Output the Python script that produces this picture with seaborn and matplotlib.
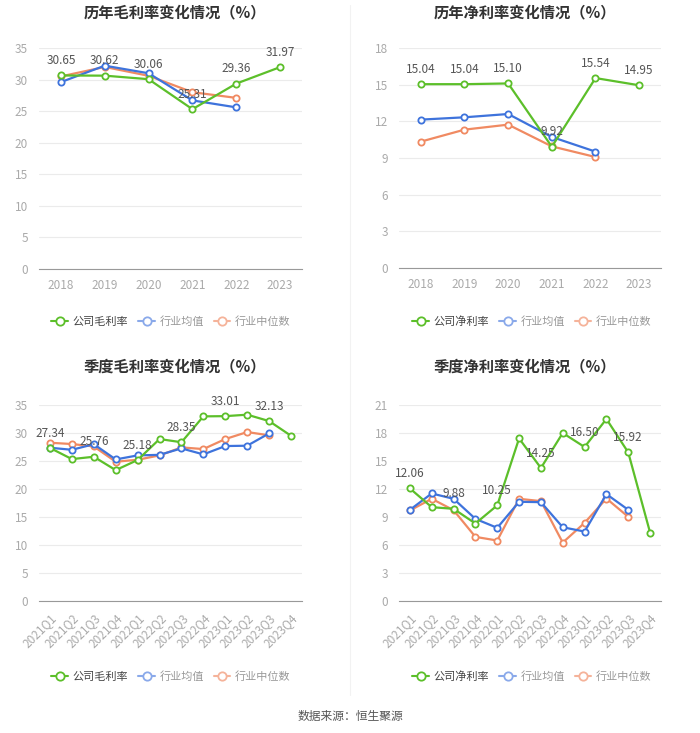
import matplotlib
matplotlib.use("Agg")
import matplotlib.pyplot as plt
from matplotlib.lines import Line2D
import seaborn as sns
import pandas as pd

# annual data
years = ["2018", "2019", "2020", "2021", "2022", "2023"]
gross_company = [30.65, 30.62, 30.06, 25.31, 29.36, 31.97]
gross_ind_avg = [29.6, 32.2, 31.0, 26.7, 25.6, None]
gross_ind_med = [30.5, 32.0, 30.6, 28.0, 27.1, None]

net_company = [15.04, 15.04, 15.10, 9.92, 15.54, 14.95]
net_ind_avg = [12.14, 12.33, 12.6, 10.72, 9.52, None]
net_ind_med = [10.34, 11.32, 11.73, 9.95, 9.08, None]

# quarterly data
quarters = ["2021Q1", "2021Q2", "2021Q3", "2021Q4", "2022Q1", "2022Q2",
            "2022Q3", "2022Q4", "2023Q1", "2023Q2", "2023Q3", "2023Q4"]
q_gross_company = [27.34, 25.34, 25.76, 23.37, 25.18, 28.92, 28.35, 32.97, 33.01, 33.27, 32.13, 29.5]
q_gross_ind_avg = [27.37, 27.0, 28.0, 25.28, 26.0, 26.1, 27.25, 26.18, 27.67, 27.73, 29.93, None]
q_gross_ind_med = [28.26, 28.03, 27.6, 24.87, 25.22, 26.0, 27.43, 27.13, 28.92, 30.17, 29.58, None]

q_net_company = [12.06, 10.05, 9.88, 8.3, 10.25, 17.42, 14.25, 18.0, 16.50, 19.5, 15.92, 7.33]
q_net_ind_avg = [9.77, 11.52, 10.95, 8.8, 7.84, 10.63, 10.59, 7.9, 7.44, 11.45, 9.77, None]
q_net_ind_med = [9.7, 10.95, 9.73, 6.87, 6.48, 10.95, 10.7, 6.26, 8.37, 10.98, 9.02, None]

GREEN = "#5cbf2a"
BLUE = "#3e73dc"
ORANGE = "#f08a62"

sns.set_style("white")
plt.rcParams["font.family"] = ["Noto Sans CJK SC", "DejaVu Sans"]

W, H = 700, 733
fig = plt.figure(figsize=(W / 100, H / 100), dpi=100)


def px_axes(x0, y0, x1, y1):
    return fig.add_axes([x0 / W, 1 - y1 / H, (x1 - x0) / W, (y1 - y0) / H])


def draw_panel(ax, cats, company, avg, med, ymax, ystep, label_every, rotate):
    df = pd.DataFrame({"pos": range(len(cats)), "company": company,
                       "avg": avg, "med": med})
    for col, color, z in [("med", ORANGE, 2), ("avg", BLUE, 3), ("company", GREEN, 4)]:
        sub = df[["pos", col]].dropna()
        sns.lineplot(data=sub, x="pos", y=col, ax=ax, color=color, lw=1.6,
                     marker="o", markersize=4.5, markerfacecolor="white",
                     markeredgecolor=color, markeredgewidth=1.3, zorder=z)
    for i in range(0, len(cats), label_every):
        ax.annotate(f"{company[i]:.2f}", (i, company[i]), xytext=(0, 6),
                    textcoords="offset points", ha="center", va="bottom",
                    fontsize=8.5, color="#555555", zorder=5)
    ax.set_xlim(-0.5, len(cats) - 0.5)
    ax.set_ylim(0, ymax)
    ax.set_yticks(range(0, ymax + 1, ystep))
    ax.set_xticks(range(len(cats)))
    if rotate:
        ax.set_xticklabels(cats, rotation=45, ha="right", rotation_mode="anchor")
    else:
        ax.set_xticklabels(cats)
    ax.set_xlabel("")
    ax.set_ylabel("")
    ax.grid(axis="y", color="#ebebeb", lw=0.8)
    ax.set_axisbelow(True)
    for s in ["left", "top", "right"]:
        ax.spines[s].set_visible(False)
    ax.spines["bottom"].set_color("#999999")
    ax.tick_params(axis="y", length=0, labelsize=8.5, colors="#aaaaaa", pad=8)
    ax.tick_params(axis="x", length=4, color="#999999", labelsize=8.5, labelcolor="#aaaaaa")


ax1 = px_axes(39, 48, 302, 269)
draw_panel(ax1, years, gross_company, gross_ind_avg, gross_ind_med, 35, 5, 1, False)
ax2 = px_axes(399, 48, 661, 268)
draw_panel(ax2, years, net_company, net_ind_avg, net_ind_med, 18, 3, 1, False)
ax3 = px_axes(39, 405, 302, 601)
draw_panel(ax3, quarters, q_gross_company, q_gross_ind_avg, q_gross_ind_med, 35, 5, 2, True)
ax4 = px_axes(399, 405, 661, 601)
draw_panel(ax4, quarters, q_net_company, q_net_ind_avg, q_net_ind_med, 21, 3, 2, True)

titles = [(175, 12, "历年毛利率变化情况（%）"), (525, 12, "历年净利率变化情况（%）"),
          (175, 366, "季度毛利率变化情况（%）"), (525, 366, "季度净利率变化情况（%）")]
for x, y, t in titles:
    fig.text(x / W, 1 - y / H, t, ha="center", va="center", fontsize=11,
             fontweight="bold", color="#333333")


def legend_at(cx, cy, first):
    handles = [Line2D([], [], color=c, lw=1.5, marker="o", markersize=6,
                      markerfacecolor="white", markeredgecolor=c, markeredgewidth=1.3)
               for c in [GREEN, "#8aa9ea", "#f5b39a"]]
    leg = fig.legend(handles, [first, "行业均值", "行业中位数"], loc="center",
                     bbox_to_anchor=(cx / W, 1 - cy / H), ncol=3, frameon=False,
                     fontsize=8, handlelength=1.5, handletextpad=0.4, columnspacing=0.9)
    for txt, c in zip(leg.get_texts(), ["#444444", "#999999", "#999999"]):
        txt.set_color(c)


legend_at(171, 322, "公司毛利率")
legend_at(532, 322, "公司净利率")
legend_at(171, 677, "公司毛利率")
legend_at(532, 677, "公司净利率")

fig.add_artist(Line2D([350 / W, 350 / W], [1 - 5 / H, 1 - 695 / H], color="#f2f2f2", lw=0.8))

fig.text(350 / W, 1 - 716 / H, "数据来源：恒生聚源", ha="center", va="center",
         fontsize=8.5, color="#555555")

fig.savefig("out.png", dpi=100)
